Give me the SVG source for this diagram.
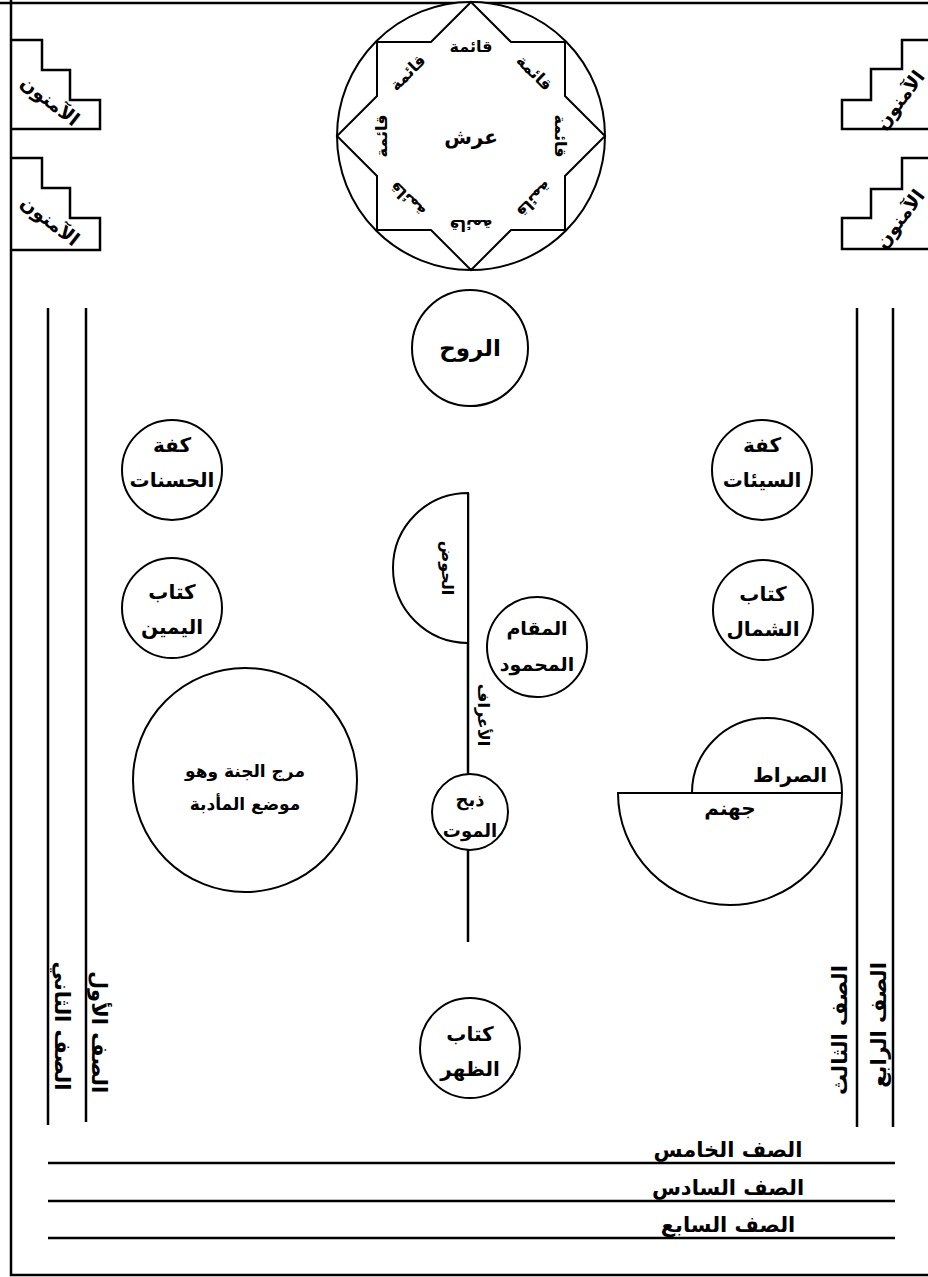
<svg xmlns="http://www.w3.org/2000/svg" width="928" height="1277" viewBox="0 0 928 1277">
<style>
.ln{stroke:#000;stroke-width:2.5;fill:none}
.sh{stroke:#000;stroke-width:2;fill:#fff}
.t{font-family:"DejaVu Sans",sans-serif;font-weight:bold;font-size:20px;text-anchor:middle;fill:#000}
.s{font-size:16px}
.st{font-size:19px}
.m{font-size:16px}
.r{font-size:21px}
</style>
<rect width="928" height="1277" fill="#fff"/>
<g id="frame">
<path class="ln" d="M0,3 H928 M11,0 V1275 H928"/>
<path class="ln" d="M48,308 V1125 M86,308 V1122 M857,308 V1127 M893,308 V1127"/>
<path class="ln" d="M48,1163 H895 M48,1201 H895 M48,1238 H895"/>
</g>
<g id="stairs">
<path class="ln" d="M11,40 H42 V70 H70 V100 H100 V129 H11"/>
<path class="ln" d="M11,158 H42 V188 H70 V218 H100 V250 H11"/>
<path class="ln" d="M928,40 H902 V69 H871 V100 H842 V129 H928"/>
<path class="ln" d="M928,158 H902 V189 H871 V218 H842 V249 H928"/>
<text class="t st" transform="translate(46,106) rotate(38)">الآمنون</text>
<text class="t st" transform="translate(46,226) rotate(38)">الآمنون</text>
<text class="t st" transform="translate(905,104) rotate(-53)">الآمنون</text>
<text class="t st" transform="translate(905,223) rotate(-53)">الآمنون</text>
</g>
<g id="throne">
<circle class="sh" cx="471" cy="136" r="134"/>
<polygon class="sh" points="471,2 511,42 565,42 565,96 605,136 565,176 565,230 511,230 471,270 431,230 377,230 377,176 337,136 377,96 377,42 431,42"/>
<text class="t" x="471" y="144">عرش</text>
<g class="t s">
<text x="471" y="52">قائمة</text>
<text x="471" y="52" transform="rotate(45 471 136)">قائمة</text>
<text x="471" y="52" transform="rotate(90 471 136)">قائمة</text>
<text x="471" y="52" transform="rotate(135 471 136)">قائمة</text>
<text x="471" y="52" transform="rotate(180 471 136)">قائمة</text>
<text x="471" y="52" transform="rotate(225 471 136)">قائمة</text>
<text x="471" y="52" transform="rotate(270 471 136)">قائمة</text>
<text x="471" y="52" transform="rotate(315 471 136)">قائمة</text>
</g>
</g>
<g id="ruh">
<circle class="sh" cx="470" cy="348" r="58"/>
<text class="t" x="470" y="356" style="font-size:23px">الروح</text>
</g>
<g id="kaffat-hasanat">
<circle class="sh" cx="172" cy="470" r="50"/>
<text class="t" x="172" y="452">كفة</text>
<text class="t" x="172" y="487">الحسنات</text>
</g>
<g id="kaffat-sayyiat">
<circle class="sh" cx="762" cy="470" r="50"/>
<text class="t" x="762" y="452">كفة</text>
<text class="t" x="762" y="487">السيئات</text>
</g>
<g id="kitab-yamin">
<circle class="sh" cx="172" cy="608" r="50"/>
<text class="t" x="172" y="599">كتاب</text>
<text class="t" x="172" y="634">اليمين</text>
</g>
<g id="kitab-shimal">
<circle class="sh" cx="763" cy="610" r="50"/>
<text class="t" x="763" y="601">كتاب</text>
<text class="t" x="763" y="636">الشمال</text>
</g>
<g id="marj">
<circle class="sh" cx="245" cy="780" r="112"/>
<text class="t" x="245" y="777" style="font-size:17px">مرج الجنة وهو</text>
<text class="t" x="245" y="810" style="font-size:17px">موضع المأدبة</text>
</g>
<g id="connectors">
<path class="ln" d="M468,493 V942" stroke-width="2"/>
</g>
<g id="hawd">
<path class="sh" d="M468,493 A75,75 0 0 0 468,643 Z"/>
<text class="t m" transform="translate(442,568) rotate(90)">الحوض</text>
</g>
<g id="aaraf">
<text class="t m" transform="translate(478,715) rotate(90)">الأعراف</text>
</g>
<g id="maqam">
<circle class="sh" cx="537" cy="647" r="50"/>
<text class="t" x="537" y="635" style="font-size:19px">المقام</text>
<text class="t" x="537" y="671" style="font-size:19px">المحمود</text>
</g>
<g id="dhabh">
<circle class="sh" cx="470" cy="812" r="38"/>
<text class="t" x="470" y="806" style="font-size:18px">ذبح</text>
<text class="t" x="470" y="837" style="font-size:18px">الموت</text>
</g>
<g id="sirat-jahannam">
<path class="sh" d="M692,793 A75,75 0 0 1 842,793 Z"/>
<path class="sh" d="M618,793 H842 A112,112 0 0 1 618,793 Z"/>
<text class="t" x="790" y="782">الصراط</text>
<text class="t" x="730" y="815">جهنم</text>
</g>
<g id="kitab-zuhr">
<circle class="sh" cx="470" cy="1048" r="50"/>
<text class="t" x="470" y="1041">كتاب</text>
<text class="t" x="470" y="1076">الظهر</text>
</g>
<g id="rows">
<text class="t r" transform="translate(55,1026) rotate(90)">الصف الثاني</text>
<text class="t r" transform="translate(92,1032) rotate(90)">الصف الأول</text>
<text class="t r" transform="translate(847,1030) rotate(-90)">الصف الثالث</text>
<text class="t r" transform="translate(886,1025) rotate(-90)">الصف الرابع</text>
<text class="t r" x="728" y="1157">الصف الخامس</text>
<text class="t r" x="728" y="1195">الصف السادس</text>
<text class="t r" x="728" y="1232">الصف السابع</text>
</g>
</svg>
